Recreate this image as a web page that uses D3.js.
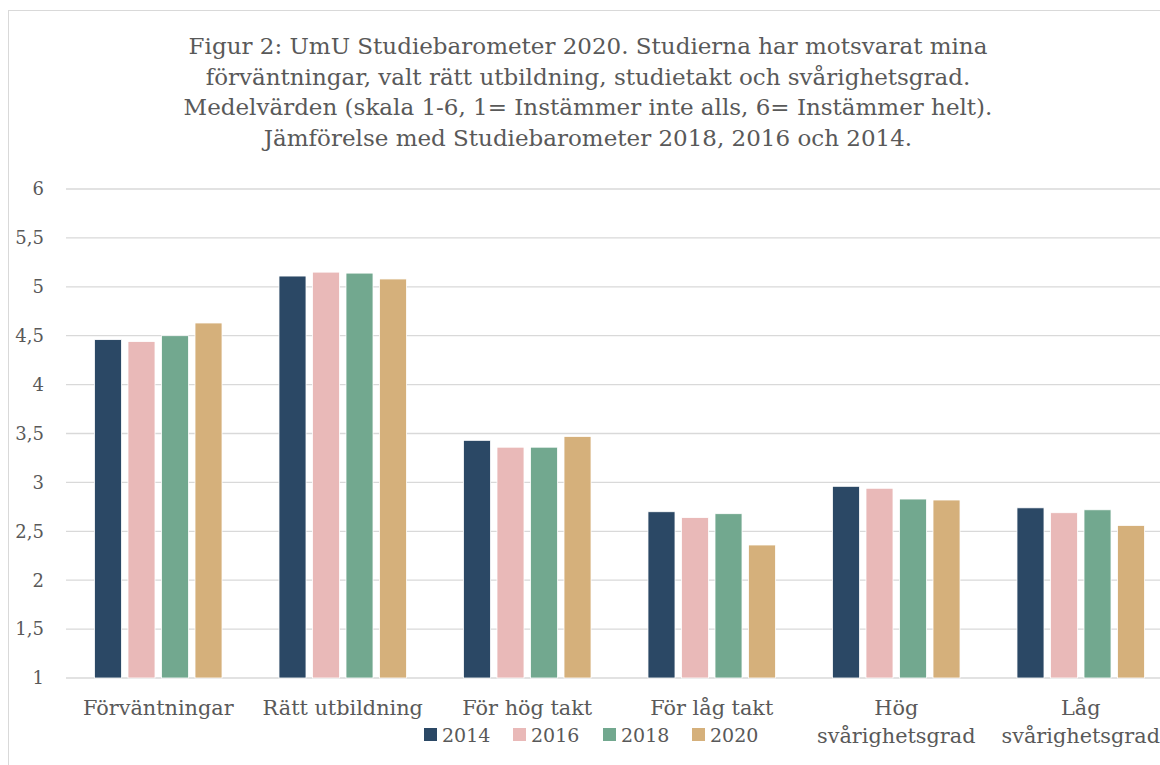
<!DOCTYPE html>
<html>
<head>
<meta charset="utf-8">
<script src="https://cdn.jsdelivr.net/npm/d3@7"></script>
<style>
  body { margin: 0; background: #fff; }
  text { font-family: "DejaVu Serif", serif; fill: #595959; }
</style>
</head>
<body>
<script>
const categories = ["Förväntningar", "Rätt utbildning", "För hög takt", "För låg takt", "Hög\nsvårighetsgrad", "Låg\nsvårighetsgrad"];
const years = ["2014", "2016", "2018", "2020"];
const v2014 = [4.46, 5.11, 3.43, 2.70, 2.96, 2.74];
const v2016 = [4.44, 5.15, 3.36, 2.64, 2.94, 2.69];
const v2018 = [4.50, 5.14, 3.36, 2.68, 2.83, 2.72];
const v2020 = [4.63, 5.08, 3.47, 2.36, 2.82, 2.56];
const yTicks = [1, 1.5, 2, 2.5, 3, 3.5, 4, 4.5, 5, 5.5, 6];
const titleLines = [
    "Figur 2: UmU Studiebarometer 2020. Studierna har motsvarat mina",
    "förväntningar, valt rätt utbildning, studietakt och svårighetsgrad.",
    "Medelvärden (skala 1-6, 1= Instämmer inte alls, 6= Instämmer helt).",
    "Jämförelse med Studiebarometer 2018, 2016 och 2014."
];

const colors = ["#2b4865", "#e9b9b8", "#72a88f", "#d5b07b"];
const series = [v2014, v2016, v2018, v2020];

const width = 1160;
const height = 765;
const margin = { left: 66, right: -13, top: 189, bottom: 87 };

let svg = d3.select("body").append("svg")
    .attr("width", width)
    .attr("height", height);

// frame
svg.append("rect")
    .attr("x", 8.5).attr("y", 10.5)
    .attr("width", width + 20).attr("height", height + 20)
    .attr("fill", "none")
    .attr("stroke", "#d9d9d9");

let title = svg.append("text")
    .attr("text-anchor", "middle")
    .style("font-size", "23px");
titleLines.forEach((t, i) => {
    title.append("tspan")
        .attr("x", 588)
        .attr("y", 54 + i * 30.5)
        .text(t);
});

let x0 = d3.scaleBand()
    .domain(categories)
    .range([margin.left, width - margin.right]);

let x1 = d3.scaleBand()
    .domain(years)
    .range([0, x0.bandwidth()])
    .paddingInner(0.194)
    .paddingOuter(0.85);

let y = d3.scaleLinear()
    .domain([1, 6])
    .range([height - margin.bottom, margin.top]);

// gridlines
svg.append("g")
    .selectAll("line")
    .data(yTicks)
    .join("line")
    .attr("x1", margin.left)
    .attr("x2", width - margin.right)
    .attr("y1", d => y(d))
    .attr("y2", d => y(d))
    .attr("stroke", "#d9d9d9")
    .attr("stroke-width", 1.3);

// y labels
svg.append("g")
    .selectAll("text")
    .data(yTicks)
    .join("text")
    .attr("x", 44)
    .attr("y", d => y(d))
    .attr("dy", "0.35em")
    .attr("text-anchor", "end")
    .style("font-size", "18px")
    .text(d => String(d).replace(".", ","));

// bars
let rows = [];
categories.forEach((c, i) => {
    years.forEach((yr, j) => {
        rows.push({ cat: c, year: yr, value: series[j][i], color: colors[j] });
    });
});

svg.append("g")
    .selectAll("rect")
    .data(rows)
    .join("rect")
    .attr("x", d => x0(d.cat) + x1(d.year))
    .attr("y", d => y(d.value))
    .attr("width", x1.bandwidth())
    .attr("height", d => y(1) - y(d.value))
    .attr("fill", d => d.color)
    .attr("stroke", "#ffffff")
    .attr("stroke-width", 0.8);

// category labels
let catLabels = svg.append("g")
    .selectAll("text")
    .data(categories)
    .join("text")
    .attr("text-anchor", "middle")
    .style("font-size", "20.8px");
catLabels.each(function(d) {
    let lines = d.split("\n");
    d3.select(this).selectAll("tspan")
        .data(lines)
        .join("tspan")
        .attr("x", x0(d) + x0.bandwidth() / 2)
        .attr("y", (l, k) => 715 + k * 28)
        .text(l => l);
});

// legend
let legend = svg.append("g");
let legendX = [424, 513, 603, 692];
years.forEach((yr, j) => {
    legend.append("rect")
        .attr("x", legendX[j])
        .attr("y", 728)
        .attr("width", 13)
        .attr("height", 13)
        .attr("fill", colors[j]);
    legend.append("text")
        .attr("x", legendX[j] + 18)
        .attr("y", 742)
        .style("font-size", "19px")
        .text(yr);
});
</script>
</body>
</html>
